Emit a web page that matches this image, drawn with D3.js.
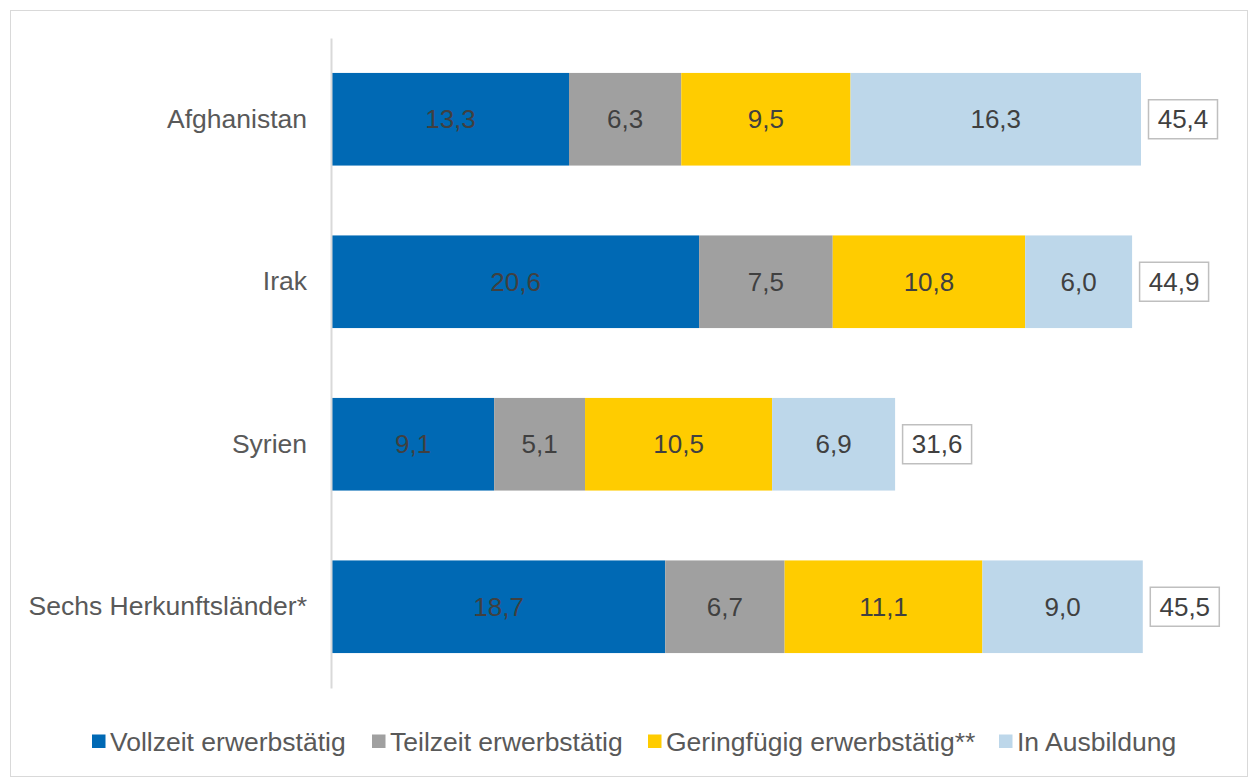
<!DOCTYPE html>
<html><head><meta charset="utf-8">
<script src="https://cdn.jsdelivr.net/npm/d3@7"></script>
<style>body{margin:0;background:#fff}svg{display:block;font-family:"Liberation Sans",Arial,sans-serif}</style>
</head><body>
<svg id="c" width="1250" height="779"></svg>
<script>
const categories = ["Afghanistan","Irak","Syrien","Sechs Herkunftsländer*"];
const seriesNames = ["Vollzeit erwerbstätig","Teilzeit erwerbstätig","Geringfügig erwerbstätig**","In Ausbildung"];
const vollzeit = [13.3, 20.6, 9.1, 18.7];
const teilzeit = [6.3, 7.5, 5.1, 6.7];
const geringfuegig = [9.5, 10.8, 10.5, 11.1];
const ausbildung = [16.3, 6.0, 6.9, 9.0];
const totals = [45.4, 44.9, 31.6, 45.5];
const colors = ["#0069b4","#a0a0a0","#ffcc00","#bdd7ea"];

const svg = d3.select("#c");
const fmt = v => d3.format(".1f")(v).replace(".", ",");
const FS = 26;

svg.append("rect").attr("x",10.5).attr("y",10.5).attr("width",1237).attr("height",766)
  .attr("fill","#fff").attr("stroke","#d9d9d9").attr("stroke-width",1);

const x = d3.scaleLinear().domain([0, 45.4]).range([332, 1141]);
const y = d3.scaleBand().domain(categories).range([38, 688]).paddingInner(0.43).paddingOuter(0.215);

const table = categories.map((c,i)=>({cat:c, vollzeit:vollzeit[i], teilzeit:teilzeit[i], geringfuegig:geringfuegig[i], ausbildung:ausbildung[i]}));
const keys = ["vollzeit","teilzeit","geringfuegig","ausbildung"];
const stack = d3.stack().keys(keys)(table);

const g = svg.append("g");
stack.forEach((layer, li) => {
  layer.forEach(d => {
    g.append("rect").attr("x", x(d[0])).attr("y", y(d.data.cat))
      .attr("width", x(d[1]) - x(d[0])).attr("height", y.bandwidth()).attr("fill", colors[li]);
    g.append("text").attr("x", (x(d[0]) + x(d[1]))/2).attr("y", y(d.data.cat) + y.bandwidth()/2)
      .attr("text-anchor","middle").attr("dominant-baseline","central")
      .attr("font-size",FS).attr("fill","#404040").text(fmt(d[1]-d[0]));
  });
});

// axis line
const yAxis = d3.axisLeft(y).tickSize(0).tickPadding(24);
const ax = svg.append("g").attr("transform","translate(331,0)").call(yAxis);
ax.select(".domain").attr("stroke","#d9d9d9").attr("stroke-width",2);
ax.selectAll("text").attr("font-size",26.5).attr("fill","#595959").attr("font-family","Liberation Sans, Arial, sans-serif");

// totals boxes
categories.forEach((c,i) => {
  const bx = x(totals[i]) + 7.5, by = y(c) + y.bandwidth()/2 - 19.5;
  svg.append("rect").attr("x",bx).attr("y",by).attr("width",69).attr("height",39)
    .attr("fill","#fff").attr("stroke","#bfbfbf").attr("stroke-width",1.5);
  svg.append("text").attr("x",bx+34.5).attr("y",y(c)+y.bandwidth()/2)
    .attr("text-anchor","middle").attr("dominant-baseline","central")
    .attr("font-size",FS).attr("fill","#404040").text(fmt(totals[i]));
});

// legend
const legendX = [92, 372, 648, 999];
seriesNames.forEach((n,i) => {
  svg.append("rect").attr("x",legendX[i]).attr("y",734.5).attr("width",13.5).attr("height",13.5).attr("fill",colors[i]);
  svg.append("text").attr("x",legendX[i]+18).attr("y",741.5).attr("dominant-baseline","central")
    .attr("font-size",26.5).attr("fill","#595959").text(n);
});
</script>
</body></html>
